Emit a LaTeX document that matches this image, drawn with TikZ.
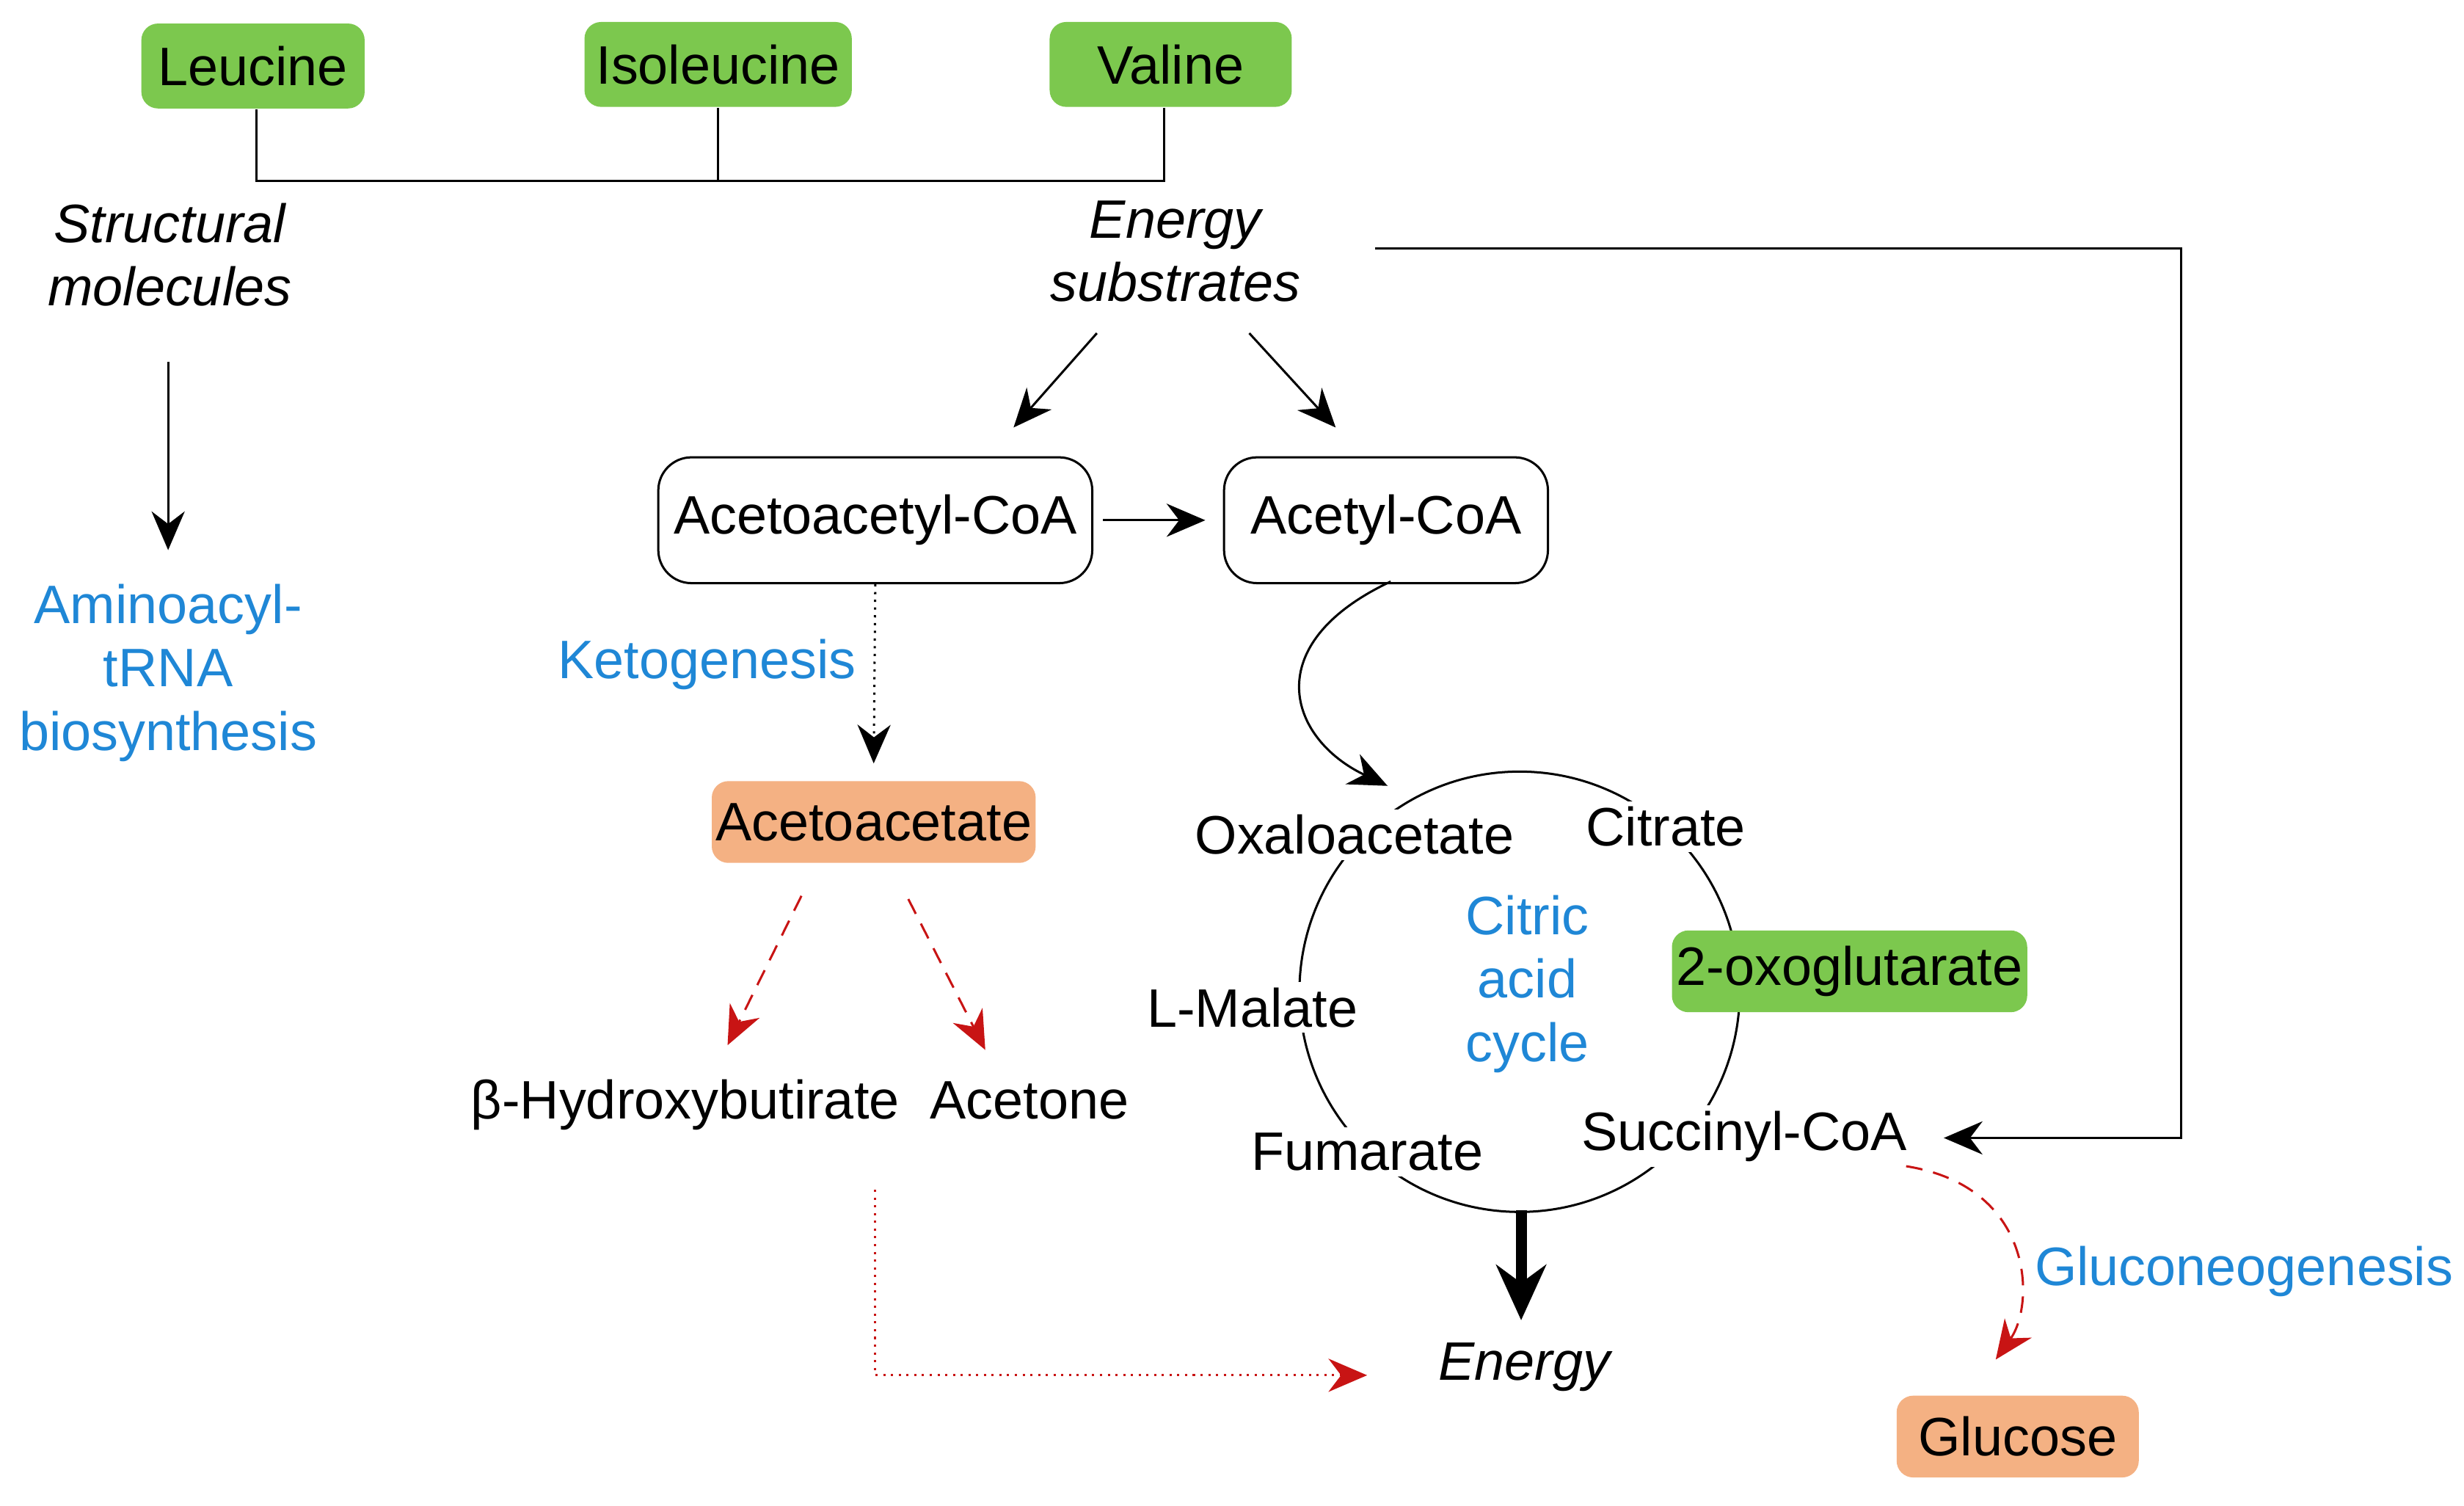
\documentclass[tikz,border=0pt]{standalone}
\usepackage{fontspec}
\setmainfont{Liberation Sans}
\usetikzlibrary{arrows.meta}
\definecolor{aagreen}{RGB}{124,200,78}
\definecolor{aaorange}{RGB}{244,177,131}
\definecolor{aablue}{RGB}{31,135,214}
\definecolor{aared}{RGB}{200,20,20}
\tikzset{
  green box/.style={fill=aagreen,draw=none,rounded corners=3pt,inner sep=0pt},
  orange box/.style={fill=aaorange,draw=none,rounded corners=3pt,inner sep=0pt},
  coa box/.style={draw=black,rounded corners=6pt,inner sep=0pt},
  blue text/.style={text=aablue,align=center},
  note/.style={font=\itshape\fontsize{9.8}{11.5}\selectfont,align=center},
  arr/.style={-{Stealth[length=7pt,width=6pt]},thin},
  red arr/.style={-{Stealth[length=7pt,width=6pt]},aared,densely dashed},
  cyc/.style={fill=white,inner sep=1pt}
}
\begin{document}
\begin{tikzpicture}[x=0.01cm,y=-0.01cm,font=\fontsize{9.8}{11.5}\selectfont]
\useasboundingbox (0,0) rectangle (1568,958);

% amino acids
\node[green box,minimum width=1.42cm,minimum height=0.54cm] (leu) at (161,42) {Leucine};
\node[green box,minimum width=1.70cm,minimum height=0.54cm] (ile) at (457,41) {Isoleucine};
\node[green box,minimum width=1.54cm,minimum height=0.54cm] (val) at (745,41) {Valine};
\coordinate (bl) at (163,115);
\coordinate (bm) at (457,115);
\coordinate (br) at (741,115);
\draw (leu.south -| bl) -- (bl) -- (br) -- (br |- val.south);
\draw (bm) -- (ile.south -| bm);

\node[note] (struct) at (108,162) {Structural\\molecules};
\node[note] (energysub) at (748,160) {Energy\\substrates};
\node[blue text] (trna) at (107,428) {Aminoacyl-\\tRNA\\biosynthesis};
\coordinate (s1) at (107,230);
\coordinate (s2) at (107,350);
\draw[arr] (s1) -- (s2);

% CoA
\node[coa box,minimum width=2.76cm,minimum height=0.80cm] (aacoa) at (557,331) {Acetoacetyl-CoA};
\node[coa box,minimum width=2.06cm,minimum height=0.80cm] (acoa) at (882,331) {Acetyl-CoA};
\coordinate (e1) at (698,212);
\coordinate (e2) at (645,272);
\coordinate (e3) at (795,212);
\coordinate (e4) at (850,272);
\draw[arr] (e1) -- (e2);
\draw[arr] (e3) -- (e4);
\coordinate (a1) at (702,331);
\coordinate (a2) at (767,331);
\draw[arr] (a1) -- (a2);

% ketogenesis
\node[orange box,minimum width=2.06cm,minimum height=0.52cm] (aceto) at (556,523) {Acetoacetate};
\node[blue text] (keto) at (450,423) {Ketogenesis};
\draw[arr,densely dotted] (aacoa.south) -- ([yshift=3pt]aceto.north);
\node (bhb) at (436,703) {β-Hydroxybutirate};
\node (acetone) at (655,700) {Acetone};
\coordinate (k1) at (510,570);
\coordinate (k2) at (463,665);
\coordinate (k3) at (578,572);
\coordinate (k4) at (627,668);
\draw[red arr] (k1) -- (k2);
\draw[red arr] (k3) -- (k4);

% citric acid cycle
\draw (967,631) circle (1.40cm);
\node[cyc] (oxa) at (862,531) {Oxaloacetate};
\node[cyc] (cit) at (1060,526) {Citrate};
\node[green box,minimum width=2.26cm,minimum height=0.52cm] (oxo) at (1177,618) {2-oxoglutarate};
\node[cyc] (suc) at (1110,723) {Succinyl-CoA};
\node[cyc] (fum) at (870,733) {Fumarate};
\node[cyc] (mal) at (797,641) {L-Malate};
\node[blue text] (tca) at (972,626) {Citric\\acid\\cycle};
\coordinate (c1) at (885,370);
\coordinate (c2) at (883,500);
\draw[arr] (c1) .. controls (800,410) and (820,470) .. (c2);

% energy
\node[note] (energy) at (970,870) {Energy};
\coordinate (t1) at (968,770);
\coordinate (t2) at (968,840);
\draw[-{Stealth[length=10pt,width=9pt]},line width=2pt] (t1) -- (t2);
\coordinate (r1) at (557,757);
\coordinate (r2) at (557,875);
\coordinate (r3) at (870,875);
\draw[red arr,densely dotted] (r1) -- (r2) -- (r3);

% side path
\coordinate (g1) at (875,158);
\coordinate (g2) at (1388,158);
\coordinate (g3) at (1388,724);
\coordinate (g4) at (1237,724);
\draw[arr] (g1) -- (g2) -- (g3) -- (g4);

% gluconeogenesis
\node[orange box,minimum width=1.54cm,minimum height=0.52cm] (glc) at (1284,914) {Glucose};
\node[blue text] (gluco) at (1428,809) {Gluconeogenesis};
\coordinate (q1) at (1213,742);
\coordinate (q2) at (1270,865);
\draw[red arr] (q1) .. controls (1295,755) and (1295,830) .. (q2);
\end{tikzpicture}
\end{document}
